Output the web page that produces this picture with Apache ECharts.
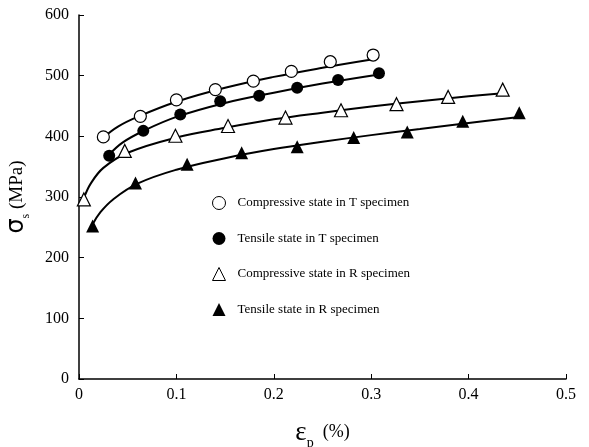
<!DOCTYPE html>
<html>
    <head>
        <meta charset="utf-8">
        <title></title>
        <style>
            body{ margin: 0; background: #fff; }
            #div{ width: 589px; height: 447px; }
        </style>
    </head>
    <body>
        <div id="div"></div>
        <script src="https://cdn.jsdelivr.net/npm/echarts@6/dist/echarts.min.js"></script>
        <script>
            // measured points [strain %, stress MPa]
            var compT = [[0.025,399],[0.063,433],[0.100,460],[0.140,477],[0.179,491],[0.218,507],[0.258,523],[0.302,534]];
            var tensT = [[0.031,368],[0.066,409],[0.104,436],[0.145,458],[0.185,467],[0.224,480],[0.266,493],[0.308,504]];
            var compR = [[0.005,296],[0.047,376],[0.099,401],[0.153,417],[0.212,431],[0.269,443],[0.326,453],[0.379,465],[0.435,477]];
            var tensR = [[0.014,252],[0.058,323],[0.111,354],[0.167,373],[0.224,383],[0.282,398],[0.337,407],[0.394,425],[0.452,439]];

            // fitted curves
            var fitCompT = [[0.025,398],[0.04,416],[0.06,432],[0.1,457],[0.15,480],[0.2,498],[0.25,513],[0.302,527]];
            var fitTensT = [[0.031,370],[0.045,390],[0.065,408],[0.1,432],[0.15,455],[0.2,472],[0.25,487],[0.308,502]];
            var fitCompR = [[0.005,298],[0.012,322],[0.025,348],[0.05,373],[0.1,398],[0.15,414],[0.2,428],[0.25,439],[0.3,449],[0.35,458],[0.4,466],[0.435,471]];
            var fitTensR = [[0.014,255],[0.022,275],[0.035,296],[0.06,322],[0.1,345],[0.15,364],[0.2,379],[0.25,391],[0.3,402],[0.35,412],[0.4,422],[0.452,432]];

            var names = ['Compressive state in T specimen','Tensile state in T specimen','Compressive state in R specimen','Tensile state in R specimen'];
            var xTicks = [0, 0.1, 0.2, 0.3, 0.4, 0.5];
            var yTicks = [0, 100, 200, 300, 400, 500, 600];

            var font = 'Liberation Serif';
            var chartDom = document.getElementById('div');
            var myChart = echarts.init(chartDom);

            function pts(name, data, symbol, size, hollow){
                return {
                    name: name,
                    type: 'scatter',
                    data: data,
                    symbol: symbol,
                    symbolSize: size,
                    z: 3,
                    itemStyle: hollow ? {color:'#fff', borderColor:'#000', borderWidth:1.2, opacity:1} : {color:'#000', opacity:1}
                };
            }
            function fit(data){
                return {
                    type: 'line',
                    data: data,
                    smooth: 0.4,
                    showSymbol: false,
                    silent: true,
                    z: 2,
                    lineStyle: {color:'#000', width:2}
                };
            }

            var option = {
                animation: false,
                grid: { left: 79, right: 23, top: 15, bottom: 68, outerBoundsMode: 'none', containLabel: false },
                legend: {
                    left: 212, top: 196,
                    padding: 0,
                    orient: 'vertical',
                    itemWidth: 13, itemHeight: 13,
                    itemGap: 22,
                    data: names,
                    itemStyle: { borderWidth: 1 },
                    textStyle: { fontFamily: font, fontSize: 13, color: '#000', padding: [0,0,0,7] }
                },
                xAxis: {
                    type: 'value',
                    min: 0, max: 0.5, interval: 0.1,
                    name: '{a|ε}{b|p}{c|  (%)}',
                    nameLocation: 'middle',
                    nameGap: 40,
                    nameTextStyle: {
                        rich: {
                            a: { fontFamily: font, fontSize: 27, color: '#000' },
                            b: { fontFamily: font, fontSize: 14, color: '#000', verticalAlign: 'bottom', padding: [0,0,-4,0] },
                            c: { fontFamily: font, fontSize: 18, color: '#000' }
                        }
                    },
                    axisLine: { lineStyle: { color: '#000', width: 1.5 } },
                    axisTick: { inside: true, length: 5, lineStyle: { color: '#000' } },
                    splitLine: { show: false },
                    axisLabel: {
                        fontFamily: font, fontSize: 16, color: '#000', margin: 8,
                        formatter: function(v){ return xTicks.indexOf(Math.round(v*10)/10) >= 0 ? String(Math.round(v*10)/10) : ''; }
                    }
                },
                yAxis: {
                    type: 'value',
                    min: 0, max: 600, interval: 100,
                    name: '{a|σ}{b|s}{c| (MPa)}',
                    nameLocation: 'middle',
                    nameRotate: 90,
                    nameGap: 50,
                    nameTextStyle: {
                        rich: {
                            a: { fontFamily: 'DejaVu Sans', fontSize: 24, color: '#000' },
                            b: { fontFamily: font, fontSize: 12, color: '#000', verticalAlign: 'bottom', padding: [0,0,-3,0] },
                            c: { fontFamily: font, fontSize: 19, color: '#000' }
                        }
                    },
                    axisLine: { show: true, lineStyle: { color: '#000', width: 1.5 } },
                    axisTick: { inside: true, length: 5, lineStyle: { color: '#000' } },
                    splitLine: { show: false },
                    axisLabel: {
                        fontFamily: font, fontSize: 16, color: '#000', margin: 10,
                        formatter: function(v){ return yTicks.indexOf(v) >= 0 ? String(v) : ''; }
                    }
                },
                series: [
                    fit(fitCompT), fit(fitTensT), fit(fitCompR), fit(fitTensR),
                    pts(names[0], compT, 'circle', 12, true),
                    pts(names[1], tensT, 'circle', 12, false),
                    pts(names[2], compR, 'triangle', 13, true),
                    pts(names[3], tensR, 'triangle', 13, false)
                ]
            };

            option && myChart.setOption(option);
        </script>
    </body>
</html>
